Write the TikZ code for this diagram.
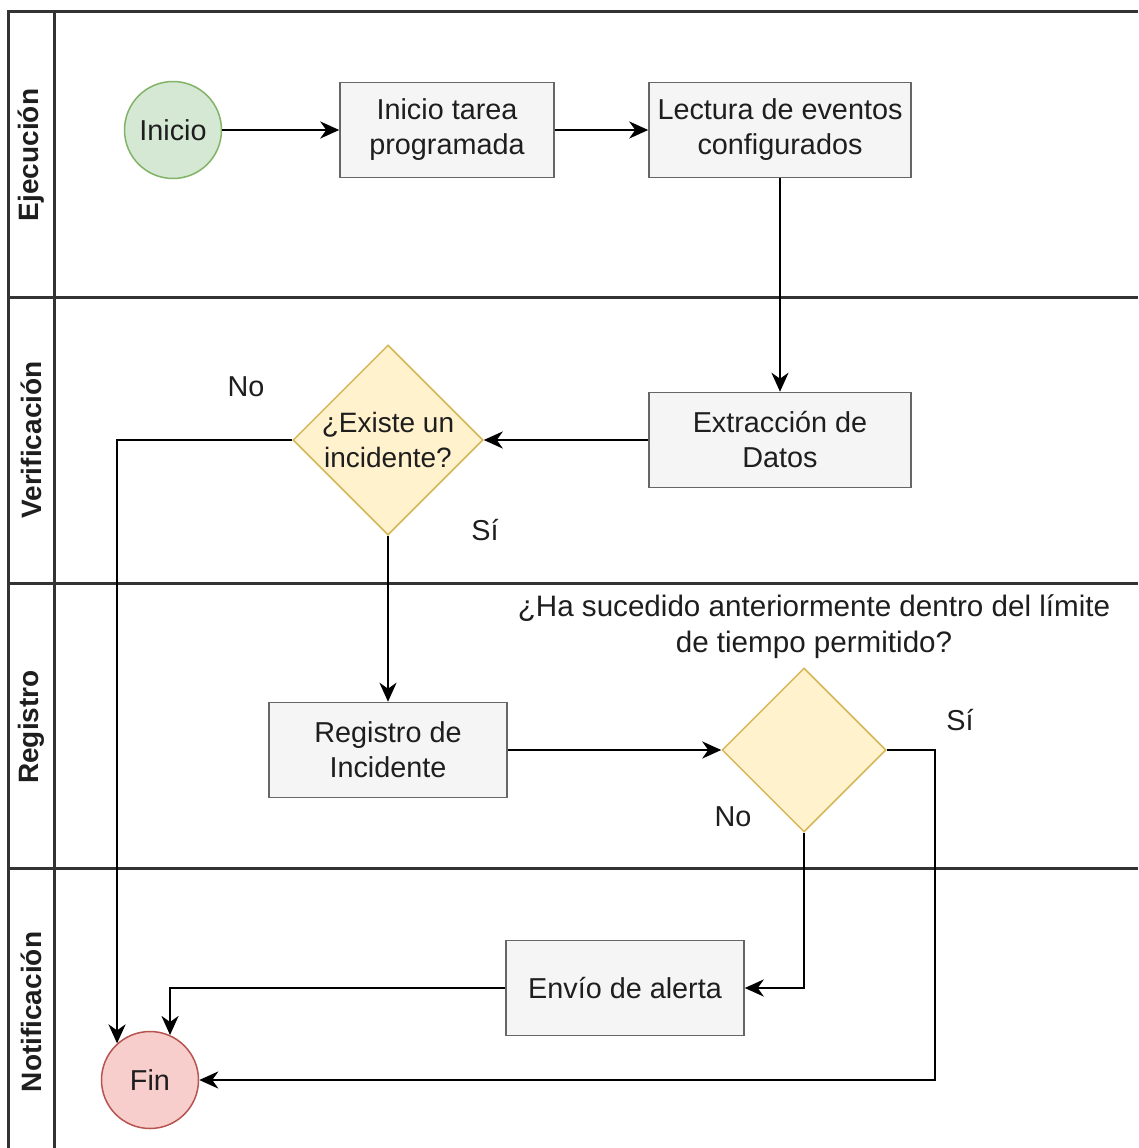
\documentclass[tikz,border=0pt]{standalone}
\usepackage{fontspec}
\setmainfont{Liberation Sans}
\usetikzlibrary{shapes.geometric,arrows.meta}

\definecolor{procfill}{HTML}{F5F5F5}
\definecolor{procline}{HTML}{666666}
\definecolor{decfill}{HTML}{FFF2CC}
\definecolor{decline}{HTML}{D6B656}
\definecolor{startfill}{HTML}{D5E8D4}
\definecolor{startline}{HTML}{82B366}
\definecolor{endfill}{HTML}{F8CECC}
\definecolor{endline}{HTML}{B85450}
\definecolor{laneline}{HTML}{333333}
\definecolor{inktext}{HTML}{1E1E1E}

\begin{document}
\begin{tikzpicture}[x=1pt,y=-1pt,
  every node/.style={font=\fontsize{28.8}{35}\selectfont, text=inktext},
  proc/.style={draw=procline, fill=procfill, line width=1.5pt, rectangle,
    minimum height=95, align=center, inner sep=0},
  decision/.style={draw=decline, fill=decfill, line width=1.5pt, diamond,
    aspect=1, align=center, inner sep=0, font=\fontsize{28}{35}\selectfont},
  terminal/.style={circle, line width=1.5pt, minimum size=97, inner sep=0},
  flow/.style={line width=2.8pt, draw=black,
    -{Stealth[length=19pt,width=17pt,inset=6pt]}},
  lane/.style={line width=3pt, draw=laneline},
  lanetitle/.style={rotate=90, font=\fontsize{28}{35}\selectfont\bfseries, text=inktext},
  edgetext/.style={inner sep=0}
]
\useasboundingbox (0,0) rectangle (1138,1148);

% swimlane frame
\draw[lane] (8,1148) -- (8,12) -- (1138,12);
\draw[lane] (54,12) -- (54,1148);
\draw[lane] (8,297) -- (1138,297);
\draw[lane] (8,583) -- (1138,583);
\draw[lane] (8,868) -- (1138,868);

% lane titles
\node[lanetitle] (lnEje) at (31,155) {Ejecución};
\node[lanetitle] (lnVer) at (31,440) {Verificación};
\node[lanetitle] (lnReg) at (31,727) {Registro};
\node[lanetitle] (lnNot) at (31,1012) {Notificación};

% nodes
\node[terminal, draw=startline, fill=startfill] (ini) at (173,130) {Inicio};
\node[proc, minimum width=214] (tarea) at (447,130) {Inicio tarea\\programada};
\node[proc, minimum width=262] (lect) at (780,130) {Lectura de eventos\\configurados};
\node[proc, minimum width=262] (extr) at (780,440) {Extracción de\\Datos};
\node[decision, minimum width=190, minimum height=190] (d1) at (388,440) {¿Existe un\\incidente?};
\node[proc, minimum width=238] (reg) at (388,750) {Registro de\\Incidente};
\node[decision, minimum width=164, minimum height=164] (d2) at (804,750) {};
\node[proc, minimum width=238] (env) at (625,988) {Envío de alerta};
\node[terminal, draw=endline, fill=endfill] (fin) at (150,1080) {Fin};

% bends
\coordinate (siX) at (935,750);

% connectors
\draw[flow] (ini) -- (tarea);
\draw[flow] (tarea) -- (lect);
\draw[flow] (lect) -- (extr);
\draw[flow] (extr) -- (d1);
\draw[flow] (d1.west) -| (fin.132);
\draw[flow] (d1) -- (reg);
\draw[flow] (reg) -- (d2);
\draw[flow] (d2.east) -- (siX) |- (fin.east);
\draw[flow] (d2.south) |- (env.east);
\draw[flow] (env.west) -| (fin.66);

% edge labels
\node[edgetext] (lNo1) at (246,387) {No};
\node[edgetext] (lSi1) at (485,530) {Sí};
\node[edgetext, align=center, font=\fontsize{29.6}{36}\selectfont] (lQ) at (814,627) {¿Ha sucedido anteriormente dentro del límite\\de tiempo permitido?};
\node[edgetext] (lSi2) at (960,720) {Sí};
\node[edgetext] (lNo2) at (733,817) {No};
\end{tikzpicture}
\end{document}
